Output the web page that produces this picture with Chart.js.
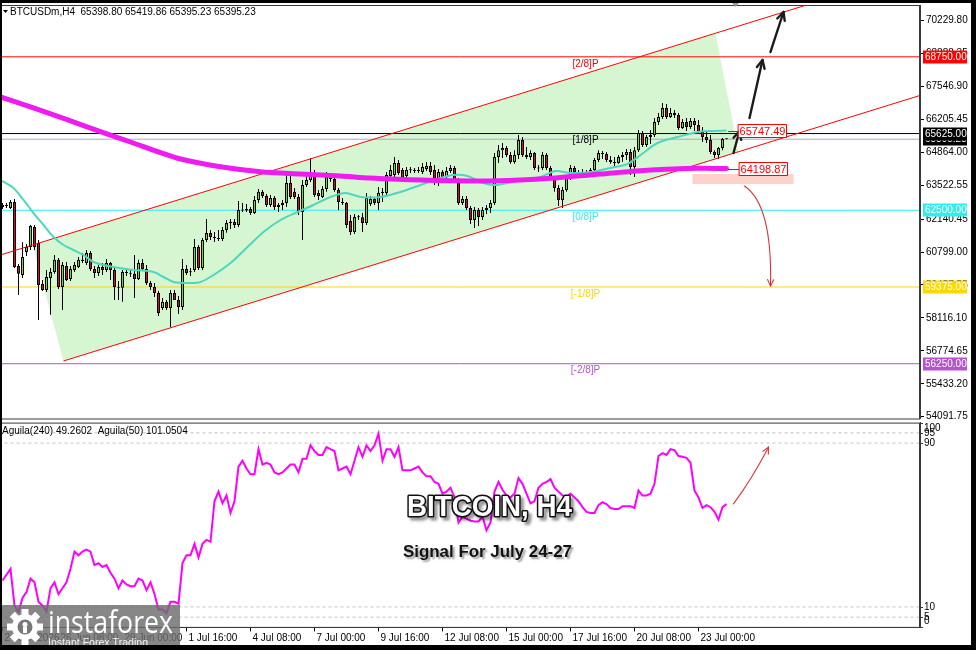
<!DOCTYPE html>
<html>
<head>
<meta charset="utf-8">
<title>BTCUSDm H4</title>
<script src="https://cdn.jsdelivr.net/npm/chart.js@4.4.1/dist/chart.umd.min.js"></script>
<style>
  html, body { margin: 0; padding: 0; background: #fff; }
  #wrap { position: relative; width: 976px; height: 650px; overflow: hidden; background: #fff; }
  canvas { position: absolute; left: 0; }
  #priceChart { top: 0; }
  #aguilaChart { top: 420px; }
  #overlay { top: 0; pointer-events: none; }
</style>
</head>
<body>
<div id="wrap">
  <canvas id="priceChart" width="976" height="420"></canvas>
  <canvas id="aguilaChart" width="976" height="230"></canvas>
  <canvas id="overlay" width="976" height="650"></canvas>
</div>
<script>
// H4 bars, bar 0 = 24 Jun 00:00, last bar = 24 Jul 04:00
const barOpen = [
  62720, 62670, 62590, 62840, 60230, 59860, 60800, 61000, 61820, 61170,
  59500, 59250, 59740, 59990, 60480, 59380, 60230, 59700, 60070, 60190,
  60480, 60350, 60760, 60110, 59950, 60190, 60070, 60350, 60070, 59380,
  59340, 59990, 59950, 59910, 59700, 60350, 60110, 59540, 59380, 59130,
  58520, 58770, 58520, 59130, 58850, 58560, 60110, 59990, 60070, 61000,
  60150, 61290, 61570, 61410, 61370, 61330, 61700, 61980, 62020, 61900,
  62510, 62490, 62550, 62390, 62920, 63250, 63080, 62720, 63000, 62630,
  62720, 62800, 63610, 63250, 63040, 62430, 63530, 63730, 64020, 63200,
  63040, 63370, 63860, 63770, 63330, 62840, 62800, 62060, 61620, 62230,
  62220, 61980, 62760, 62960, 62800, 63200, 63200, 63900, 63940, 64430,
  64140, 63900, 64140, 64140, 64100, 64060, 64180, 64300, 64140, 63650,
  64060, 63850, 64100, 64220, 63730, 62800, 62960, 62590, 62100, 62510,
  62230, 62510, 62590, 62800, 64670, 64950, 65040, 64750, 64470, 64750,
  65360, 64750, 64670, 64830, 64220, 64220, 64750, 64220, 63820, 63410,
  62920, 63330, 63820, 64220, 64060, 64020, 64060, 64020, 64140, 64550,
  64830, 64790, 64550, 64470, 64430, 64670, 64750, 64870, 64260, 64950,
  65650, 65160, 65480, 65570, 66100, 66300, 66670, 66300, 66460, 66380,
  65850, 66100, 65890, 66140, 65970, 65690, 65480, 65360, 64870, 64750,
  65040, 65398.80
];
const barHigh = [
  62800, 62800, 62920, 62960, 60310, 61210, 61130, 61900, 61900, 61290,
  59660, 60070, 60150, 60680, 60560, 60390, 60390, 60230, 60390, 60600,
  60760, 60880, 60840, 60230, 60270, 60350, 60520, 60390, 60150, 59620,
  60070, 60150, 60070, 60680, 60480, 60520, 60270, 59620, 59540, 59210,
  58930, 58850, 59250, 59250, 59010, 60520, 60270, 60150, 61330, 61090,
  61370, 62140, 61700, 61620, 61700, 61820, 62100, 62140, 62140, 62880,
  62800, 62760, 62630, 63080, 63370, 63330, 63160, 63120, 63080, 62800,
  62920, 64020, 64020, 63410, 63160, 63730, 64060, 64630, 64140, 63330,
  63490, 64060, 64020, 63940, 63410, 63000, 62840, 62310, 62350, 62310,
  62390, 63200, 63080, 63040, 63450, 63410, 64060, 64340, 64670, 64550,
  64220, 64260, 64260, 64220, 64260, 64430, 64470, 64470, 64340, 64180,
  64140, 64260, 64340, 64300, 63810, 63080, 63080, 62670, 62630, 62590,
  62630, 62710, 62920, 64830, 65160, 65240, 65120, 64870, 64950, 65570,
  65480, 65080, 64950, 64870, 64340, 64870, 64830, 64300, 63900, 63530,
  63450, 63900, 64340, 64300, 64140, 64180, 64140, 64220, 64630, 64950,
  64910, 64870, 64710, 64670, 64750, 64870, 65000, 65000, 65080, 65770,
  65730, 65570, 65770, 66260, 66460, 66870, 66830, 66670, 66580, 66460,
  66220, 66260, 66260, 66260, 66180, 65890, 65730, 65570, 64950, 65080,
  65440, 65419.86
];
const barLow = [
  62550, 62590, 62550, 60150, 59050, 59740, 60640, 60880, 60880, 58030,
  59210, 59170, 58240, 59910, 59290, 58440, 59620, 59620, 59990, 60150,
  60350, 60270, 60030, 59740, 59820, 59860, 59990, 59660, 58850, 58850,
  58770, 59820, 59780, 58930, 59660, 60030, 59460, 59250, 58970, 58190,
  58440, 58440, 57750, 58850, 58280, 58440, 59860, 59820, 59990, 60070,
  60070, 61210, 61290, 61210, 61250, 61250, 61580, 61740, 61780, 61820,
  62430, 62430, 62310, 62350, 62800, 63000, 62630, 62630, 62510, 62430,
  62510, 62630, 62960, 62960, 62310, 61290, 63450, 63650, 63040, 62920,
  63000, 63250, 63650, 63250, 62510, 62720, 61780, 61490, 61530, 62100,
  61620, 61900, 62670, 62720, 62510, 62840, 63120, 63820, 63860, 63940,
  63690, 63730, 64020, 64020, 64020, 63980, 64100, 63940, 63530, 63490,
  63730, 63780, 64020, 63650, 62710, 62710, 62510, 61940, 61780, 61860,
  62100, 62350, 62390, 62710, 64430, 64630, 64670, 64390, 64390, 64590,
  64670, 64590, 64550, 64140, 64060, 64140, 64140, 63730, 63250, 62670,
  62590, 63250, 63730, 63900, 63900, 63860, 63940, 63940, 64100, 64470,
  64590, 64470, 64390, 64300, 64390, 64470, 64550, 63940, 63860, 64870,
  65080, 65080, 65200, 65480, 65970, 66220, 66220, 66260, 66260, 65770,
  65810, 65730, 65810, 65730, 65610, 65280, 65240, 64790, 64630, 64590,
  64950, 65395.23
];
const barClose = [
  62630, 62720, 62840, 60190, 59910, 60600, 61000, 61860, 61000, 59460,
  59250, 59780, 59990, 60480, 59380, 60270, 59660, 60110, 60270, 60480,
  60430, 60760, 60110, 59950, 60190, 60070, 60350, 60070, 59380, 59340,
  59990, 59950, 59910, 59700, 60350, 60110, 59540, 59380, 59130, 58320,
  58770, 58520, 59130, 58850, 58560, 60110, 59950, 59980, 61000, 60150,
  61290, 61570, 61410, 61370, 61330, 61700, 61980, 62020, 61900, 62510,
  62490, 62550, 62390, 62920, 63250, 63080, 62720, 63000, 62630, 62720,
  62800, 63610, 63040, 63040, 62430, 63530, 63730, 64020, 63120, 63080,
  63370, 63860, 63770, 63330, 62840, 62800, 61900, 61620, 62230, 62220,
  61980, 63000, 62960, 62800, 63200, 63250, 63940, 64140, 64430, 64020,
  63820, 64140, 64130, 64100, 64140, 64260, 64300, 64060, 63650, 64060,
  63850, 64100, 64220, 63730, 62800, 62960, 62590, 62100, 62510, 62230,
  62510, 62590, 62800, 64670, 64950, 65040, 64750, 64470, 64750, 65360,
  64750, 64670, 64830, 64220, 64200, 64750, 64220, 63820, 63410, 62920,
  63330, 63820, 64220, 64060, 64020, 64060, 64020, 64140, 64550, 64830,
  64790, 64550, 64470, 64430, 64670, 64750, 64870, 64260, 64950, 65650,
  65160, 65480, 65570, 66100, 66300, 66670, 66300, 66460, 66380, 65850,
  66100, 65890, 66140, 65970, 65690, 65480, 65360, 64870, 64750, 65040,
  65400, 65395.23
];

// moving averages, read at a few bars along each curve
const maFastBar = [-0.5, 2.75, 5.25, 7.75, 10.25, 12.75, 15.25, 17.75, 20.25, 22.75, 25.25, 27.75, 32.75, 37.75,
  40.25, 42.75, 47, 49.5, 52.75, 57, 61.25, 65.25, 69.5, 73.75, 77.75, 82, 85.75, 89.5, 94.5, 99.5, 104.5,
  109.5, 112.75, 116.25, 119.5, 122.75, 126.25, 129.5, 134.5, 138.25, 142, 147, 152, 156.25, 159.5, 163.75,
  168.75, 173.75, 177, 181];
const maFastVal = [63733, 63407, 62919, 62389, 61901, 61412, 61086, 60882, 60679, 60394, 60272, 60190, 60068, 59986,
  59783, 59579, 59538, 59579, 59864, 60353, 61005, 61616, 62104, 62430, 62715, 63041, 63204, 63041, 63041, 63245, 63530,
  63815, 63937, 63896, 63652, 63530, 63611, 63733, 63855, 64100, 64018, 64059, 64222, 64385, 64751, 65240,
  65485, 65688, 65729, 65747.49];
const maSlowBar = [-0.5, 7, 16, 24.5, 32, 39.5, 44.5, 54.5, 64.5, 74.5, 84.5, 92, 104.5, 119.5, 129.5, 137, 149.5, 162, 174.5, 181];
const maSlowVal = [67114, 66707, 66198, 65705, 65281, 64849, 64589, 64275, 64071, 63978, 63896, 63815, 63733, 63693, 63733, 63802, 63978, 64141, 64210, 64198.87];

// Aguila(240), one value per bar
const aguila240 = [
  22.9, 25.7, 28.6, 10.6, 7.5, 14.4, 17.2, 23.8, 22, 12.5,
  10.6, 7.8, 19.1, 22, 16.3, 19.1, 22, 28.6, 37, 35.2,
  37, 38, 37, 30.4, 31.4, 29.5, 30.4, 26.7, 23.8, 19.1,
  22.9, 21, 20.1, 20.1, 23.8, 22.9, 18.2, 22, 16.3, 8.8,
  8.8, 6.9, 12.5, 12.5, 11.6, 31.4, 35.2, 35.2, 40.8, 34.2,
  40.8, 42.7, 41.8, 61.6, 66.3, 60.6, 64.4, 55.9, 61.6, 78.5,
  81.4, 77.6, 74.8, 74.8, 87, 79.5, 80.4, 79.5, 75.7, 74.8,
  75.7, 77.6, 79.5, 79.5, 75.7, 82.3, 82.3, 88.9, 86.1, 84.2,
  84.2, 88, 87, 86.1, 76.7, 77.6, 78.5, 74.8, 81.4, 88,
  83.3, 88.9, 86.1, 88.9, 94.6, 81.4, 87, 87, 83.3, 88,
  76.7, 76.7, 76.7, 77.6, 78.5, 75.7, 73.8, 73.8, 71, 70.1,
  65.3, 66.3, 68.2, 63.5, 51.2, 54, 53.1, 52.1, 51.7, 51.7,
  54, 47.4, 51.2, 66.3, 71, 67.2, 64.4, 63.5, 65.3, 72.9,
  70.1, 65.3, 60.6, 61.6, 68.2, 70.1, 71, 72.4, 68.2, 66.3,
  64.4, 63.5, 65.3, 63.5, 61.6, 58.7, 56.4, 55.9, 55.9, 59.7,
  61.1, 60.2, 58.3, 57.8, 57.8, 59.2, 59.2, 59.2, 58.3, 66.8,
  64.4, 64.4, 65.3, 70.1, 83.7, 85.1, 84.2, 87, 86.6, 83.7,
  83.3, 82.8, 80.4, 66.8, 63.5, 58.3, 59.7, 58.7, 56.4, 52.6,
  58.7, 60.2
];
const aguilaLevels = [95, 90, 10, 5];
const aguilaTicks = [100, 95, 90, 10, 5, 0];

// Murrey math levels and channel
const murreyLevels = [68750, 65625, 62500, 59375, 56250];
const murreyNames = ['[2/8]P', '[1/8]P', '[0/8]P', '[-1/8]P', '[-2/8]P'];
const chanUpperBar = [-0.5, 201], chanUpperVal = [60679, 70861];
const chanLowerBar = [15.25, 229.75], chanLowerVal = [56361, 67195];

const priceTicks = [70229.80, 68888.35, 67546.90, 66205.45, 64864.00, 63522.55, 62140.45,
  60799.00, 59457.55, 58116.10, 56774.65, 55433.20, 54091.75];
const timeTickBars = [0, 14, 30, 46, 62, 78, 94, 110, 126, 142, 158, 174];
const timeTickLabels = ['24 Jun 2026', '26 Jun 08:00', '29 Jun 00:00', '1 Jul 16:00', '4 Jul 08:00', '7 Jul 00:00',
  '9 Jul 16:00', '12 Jul 08:00', '15 Jul 00:00', '17 Jul 16:00', '20 Jul 08:00', '23 Jul 00:00'];

// ---------------- drawings placed on the chart (bar, price) ----------------
const channelFill = { bar: [7.5, 178.25, 184, 15.25], val: [61086, 69704, 64874, 56361] };
const pinkZone = { bar0: 172.5, bar1: 197.75, hi: 63978, lo: 63571 };
const blackArrows = [
  { from: [182.75, 64833], to: [184.25, 65729] },
  { from: [186.75, 66258], to: [190, 68621] },
  { from: [192, 68947], to: [195.25, 70576] }
];
const redCurve = { from: [185.5, 63489], ctrl: [192.5, 62715], to: [192, 59416] };
const aguilaCurve = { from: [182.75, 60.3], ctrl: [187.5, 73], to: [191.5, 88] };
const valueTags = [{ bar: 183.75, value: maFastVal[maFastVal.length - 1] }, { bar: 184, value: maSlowVal[maSlowVal.length - 1] }];

const FONT = '"Liberation Sans", Arial, sans-serif';
Chart.defaults.font.family = FONT;
Chart.defaults.font.size = 10;
Chart.defaults.color = '#000';

const BULL = '#7fd03c', BEAR = '#c8141e';
const murreyColor = ['#ff0000', '#000000', '#30eef0', '#ffd700', '#b653d0'];
const X_MIN = -0.375, X_MAX = 229.375;
const PRICE_MIN = 54019, PRICE_MAX = 70861;
const last = barClose.length - 1;
const lastPrice = barClose[last];

const pts = (xs, ys) => xs.map((x, i) => ({ x, y: ys[i] }));
const flat = (v) => [{ x: -1, y: v }, { x: 240, y: v }];

function arrowHead(ctx, x1, y1, x2, y2, len, spread) {
  const a = Math.atan2(y2 - y1, x2 - x1);
  ctx.beginPath();
  ctx.moveTo(x2 - len * Math.cos(a - spread), y2 - len * Math.sin(a - spread));
  ctx.lineTo(x2, y2);
  ctx.lineTo(x2 - len * Math.cos(a + spread), y2 - len * Math.sin(a + spread));
  ctx.stroke();
}

const priceDrawings = {
  id: 'priceDrawings',
  beforeDatasetsDraw(chart) {
    const { ctx, chartArea: a, scales: { x, y } } = chart;
    ctx.save();
    ctx.beginPath(); ctx.rect(a.left, a.top, a.width, a.height); ctx.clip();
    ctx.fillStyle = '#d6f6d2';
    ctx.beginPath();
    channelFill.bar.forEach((b, k) => {
      const px = x.getPixelForValue(b), py = y.getPixelForValue(channelFill.val[k]);
      k ? ctx.lineTo(px, py) : ctx.moveTo(px, py);
    });
    ctx.closePath(); ctx.fill();
    const zx = x.getPixelForValue(pinkZone.bar0), zy = y.getPixelForValue(pinkZone.hi);
    ctx.fillStyle = '#fcd2ca';
    ctx.fillRect(zx, zy, x.getPixelForValue(pinkZone.bar1) - zx, y.getPixelForValue(pinkZone.lo) - zy);
    ctx.restore();
  },
  afterDatasetsDraw(chart) {
    const { ctx, chartArea: a, scales: { x, y } } = chart;
    const P = (p) => [x.getPixelForValue(p[0]), y.getPixelForValue(p[1])];
    ctx.save();
    ctx.beginPath(); ctx.rect(a.left, a.top, a.width, a.height); ctx.clip();
    // Murrey labels
    ctx.font = '10px ' + FONT; ctx.textAlign = 'center'; ctx.textBaseline = 'middle';
    murreyLevels.forEach((v, k) => {
      ctx.fillStyle = murreyColor[k];
      ctx.fillText(murreyNames[k], x.getPixelForValue(145.75), y.getPixelForValue(v) + 7);
    });
    // black arrows
    ctx.strokeStyle = '#1c1c1c'; ctx.lineWidth = 2.4; ctx.lineCap = 'round'; ctx.lineJoin = 'round';
    blackArrows.forEach(ar => {
      const [x1, y1] = P(ar.from), [x2, y2] = P(ar.to);
      ctx.beginPath(); ctx.moveTo(x1, y1); ctx.lineTo(x2, y2); ctx.stroke();
      arrowHead(ctx, x1, y1, x2, y2, 9, 0.45);
    });
    // red curved arrow
    const [c1x, c1y] = P(redCurve.from), [c2x, c2y] = P(redCurve.ctrl), [c3x, c3y] = P(redCurve.to);
    ctx.strokeStyle = '#e0303c'; ctx.lineWidth = 1.1;
    ctx.beginPath(); ctx.moveTo(c1x, c1y); ctx.quadraticCurveTo(c2x, c2y, c3x, c3y); ctx.stroke();
    arrowHead(ctx, c2x, c2y, c3x, c3y, 7, 0.45);
    // value tags at the moving average ends
    valueTags.forEach(t => {
      const bx = x.getPixelForValue(t.bar), by = y.getPixelForValue(t.value);
      ctx.strokeStyle = '#ff0000'; ctx.lineWidth = 1;
      ctx.beginPath(); ctx.moveTo(x.getPixelForValue(181.5), Math.round(by) + 0.5); ctx.lineTo(bx, Math.round(by) + 0.5); ctx.stroke();
      ctx.fillStyle = '#fff';
      ctx.fillRect(Math.round(bx) + 0.5, Math.round(by) - 6.5, 48, 13);
      ctx.strokeRect(Math.round(bx) + 0.5, Math.round(by) - 6.5, 48, 13);
      ctx.fillStyle = '#ff0000'; ctx.font = '11px ' + FONT; ctx.textAlign = 'center';
      ctx.fillText(t.value.toFixed(2), Math.round(bx) + 24.5, Math.round(by) + 0.5);
    });
    ctx.restore();
  },
  afterDraw(chart) {
    const { ctx, chartArea: a, scales: { x, y } } = chart;
    ctx.save();
    ctx.strokeStyle = '#3a3a3a'; ctx.lineWidth = 1;
    ctx.strokeRect(a.left + 0.5, a.top + 0.5, a.width - 1, a.height);
    // shift marker
    const sx = x.getPixelForValue(183.25);
    ctx.fillStyle = '#8c9cb0';
    ctx.beginPath(); ctx.moveTo(sx - 6, 0); ctx.lineTo(sx + 6, 0); ctx.lineTo(sx, 7); ctx.closePath(); ctx.fill();
    // price tags on the axis
    const tags = [
      { v: murreyLevels[0], bg: murreyColor[0] }, { v: lastPrice, bg: '#000' }, { v: murreyLevels[1], bg: '#000' },
      { v: murreyLevels[2], bg: murreyColor[2] }, { v: murreyLevels[3], bg: murreyColor[3] }, { v: murreyLevels[4], bg: murreyColor[4] }];
    ctx.font = '10px ' + FONT; ctx.textAlign = 'left'; ctx.textBaseline = 'middle';
    tags.forEach(t => {
      const ty = y.getPixelForValue(t.v);
      ctx.fillStyle = t.bg;
      ctx.fillRect(a.right + 3, Math.round(ty) - 6.5, 44, 13);
      ctx.fillStyle = '#fff';
      ctx.fillText(t.v.toFixed(2), a.right + 5, Math.round(ty) + 0.5);
    });
    ctx.restore();
  }
};

const priceChart = new Chart(document.getElementById('priceChart'), {
  type: 'bar',
  data: {
    datasets: [
      ...murreyLevels.map((v, k) => ({ type: 'line', data: flat(v), borderColor: murreyColor[k], borderWidth: 1, pointRadius: 0, order: 10 })),
      { type: 'line', data: flat(lastPrice), borderColor: '#a4acc0', borderWidth: 1, pointRadius: 0, order: 10 },
      { type: 'bar', data: barOpen.map((o, i) => ({ x: i, y: [barLow[i], barHigh[i]] })), backgroundColor: '#000',
        barThickness: 1, grouped: false, inflateAmount: 0, minBarLength: 1, order: 6 },
      { type: 'bar', data: barOpen.map((o, i) => ({ x: i, y: [o, barClose[i]] })),
        backgroundColor: c => barClose[c.dataIndex] >= barOpen[c.dataIndex] ? BULL : BEAR,
        borderColor: '#000', borderWidth: 1, borderSkipped: false, barThickness: 3, grouped: false,
        inflateAmount: 0, minBarLength: 1, order: 5 },
      { type: 'line', data: pts(chanUpperBar, chanUpperVal), borderColor: '#ff0000', borderWidth: 1, pointRadius: 0, order: 3 },
      { type: 'line', data: pts(chanLowerBar, chanLowerVal), borderColor: '#ff0000', borderWidth: 1, pointRadius: 0, order: 3 },
      { type: 'line', data: pts(maFastBar, maFastVal), borderColor: '#4fd6bf', borderWidth: 2, pointRadius: 0, tension: 0.3, order: 2 },
      { type: 'line', data: pts(maSlowBar, maSlowVal), borderColor: '#ee1cee', borderWidth: 5, pointRadius: 0, tension: 0.3,
        borderCapStyle: 'round', order: 1 }
    ]
  },
  options: {
    responsive: false, animation: false, devicePixelRatio: 1, events: [],
    layout: { padding: { left: 1, top: 5, right: 0, bottom: 1.5 } },
    plugins: { legend: { display: false }, tooltip: { enabled: false } },
    scales: {
      x: { type: 'linear', min: X_MIN, max: X_MAX, display: false, offset: false },
      y: {
        type: 'linear', position: 'right', min: PRICE_MIN, max: PRICE_MAX,
        afterFit: s => { s.width = 56; s.paddingTop = 0; s.paddingBottom = 0; },
        afterBuildTicks: s => { s.ticks = priceTicks.map(v => ({ value: v })); },
        ticks: { autoSkip: false, padding: 2, color: '#000', font: { size: 10 }, callback: v => v.toFixed(2) },
        grid: { drawOnChartArea: false, drawTicks: true, tickLength: 4, color: '#000' },
        border: { display: true, color: '#3a3a3a' }
      }
    }
  },
  plugins: [priceDrawings]
});

const aguilaDrawings = {
  id: 'aguilaDrawings',
  afterDraw(chart) {
    const { ctx, chartArea: a, scales: { x, y } } = chart;
    ctx.save();
    ctx.strokeStyle = '#3a3a3a'; ctx.lineWidth = 1;
    ctx.strokeRect(a.left + 0.5, a.top + 0.5, a.width - 1, a.height - 0.5);
    ctx.font = '10px ' + FONT; ctx.fillStyle = '#000'; ctx.textAlign = 'left'; ctx.textBaseline = 'middle';
    aguilaTicks.forEach(v => {
      const ty = y.getPixelForValue(v);
      ctx.beginPath(); ctx.moveTo(a.right, Math.round(ty) + 0.5); ctx.lineTo(a.right + 3, Math.round(ty) + 0.5); ctx.stroke();
      const ly = Math.min(Math.max(ty, a.top + 5.5), a.bottom - 6.5);
      ctx.fillText(String(v), a.right + 4, ly);
    });
    ctx.beginPath(); ctx.rect(a.left, a.top, a.width, a.height); ctx.clip();
    const P = (p) => [x.getPixelForValue(p[0]), y.getPixelForValue(p[1])];
    const [s1x, s1y] = P(aguilaCurve.from), [s2x, s2y] = P(aguilaCurve.ctrl), [s3x, s3y] = P(aguilaCurve.to);
    ctx.strokeStyle = '#e0303c'; ctx.lineWidth = 1.1; ctx.lineCap = 'round';
    ctx.beginPath(); ctx.moveTo(s1x, s1y); ctx.quadraticCurveTo(s2x, s2y, s3x, s3y); ctx.stroke();
    arrowHead(ctx, s2x, s2y, s3x, s3y, 7, 0.45);
    ctx.restore();
  }
};

const aguilaChart = new Chart(document.getElementById('aguilaChart'), {
  type: 'line',
  data: {
    datasets: [
      ...aguilaLevels.map(v => ({ data: flat(v), borderColor: '#c2c2c2', borderWidth: 1, borderDash: [3, 3], pointRadius: 0, order: 5 })),
      { data: aguila240.map((v, i) => ({ x: i, y: v })), borderColor: '#ff00ff', borderWidth: 2, pointRadius: 0, order: 1 }
    ]
  },
  options: {
    responsive: false, animation: false, devicePixelRatio: 1, events: [],
    layout: { padding: { left: 1, top: 2.6, right: 0, bottom: 0 } },
    plugins: { legend: { display: false }, tooltip: { enabled: false } },
    scales: {
      x: {
        type: 'linear', min: X_MIN, max: X_MAX, offset: false,
        afterFit: s => { s.height = 22.6; s.paddingLeft = 0; s.paddingRight = 0; },
        afterBuildTicks: s => { s.ticks = timeTickBars.map(v => ({ value: v })); },
        ticks: { autoSkip: false, maxRotation: 0, align: 'start', labelOffset: 2, padding: 1, color: '#000', font: { size: 10 },
          callback: v => timeTickLabels[timeTickBars.indexOf(v)] },
        grid: { drawOnChartArea: false, drawTicks: true, tickLength: 4, color: '#000' },
        border: { display: true, color: '#3a3a3a' }
      },
      y: {
        type: 'linear', position: 'right', min: 0, max: 100,
        afterFit: s => { s.width = 56; s.paddingTop = 0; s.paddingBottom = 0; },
        ticks: { display: false }, grid: { display: false },
        border: { display: true, color: '#3a3a3a' }
      }
    }
  },
  plugins: [aguilaDrawings]
});

// ---------------- overlay: captions, logo, frame ----------------
const ov = document.getElementById('overlay').getContext('2d');

ov.font = '10px ' + FONT; ov.fillStyle = '#000'; ov.textBaseline = 'middle'; ov.textAlign = 'left';
ov.fillText('BTCUSDm,H4  ' + [barOpen[last], barHigh[last], barLow[last], barClose[last]].map(v => v.toFixed(2)).join(' '), 10, 12.5);
ov.beginPath(); ov.moveTo(3, 10); ov.lineTo(8, 10); ov.lineTo(5.5, 13); ov.closePath(); ov.fill();
ov.fillText('Aguila(240) 49.2602  Aguila(50) 101.0504', 2, 431);

function fitted(text, cx, base, width, font, draw) {
  ov.save();
  ov.font = font;
  const w = ov.measureText(text).width;
  ov.translate(cx, base);
  ov.scale(width / w, 1);
  ov.textAlign = 'center'; ov.textBaseline = 'alphabetic';
  draw();
  ov.restore();
}
fitted('BITCOIN, H4', 489.5, 516, 165, 'bold 29px ' + FONT, () => {
  ov.shadowColor = 'rgba(0,0,0,0.45)'; ov.shadowOffsetX = 3; ov.shadowOffsetY = 3; ov.shadowBlur = 3;
  ov.lineJoin = 'round'; ov.lineWidth = 3.2; ov.strokeStyle = '#111';
  ov.strokeText('BITCOIN, H4', 0, 0);
  ov.shadowColor = 'transparent';
  ov.fillStyle = '#fff';
  ov.fillText('BITCOIN, H4', 0, 0);
});
fitted('Signal For July 24-27', 487.5, 557, 169, 'bold 16px ' + FONT, () => {
  ov.shadowColor = 'rgba(0,0,0,0.4)'; ov.shadowOffsetX = 2; ov.shadowOffsetY = 2; ov.shadowBlur = 2;
  ov.fillStyle = '#111';
  ov.fillText('Signal For July 24-27', 0, 0);
});

// instaforex badge
ov.fillStyle = 'rgba(108,108,108,0.82)';
ov.fillRect(0, 605, 180, 45);
ov.save();
ov.translate(25, 627);
ov.fillStyle = '#fff';
for (let k = 0; k < 8; k++) {
  ov.save(); ov.rotate(k * Math.PI / 4); ov.fillRect(-3.5, -18, 7, 7); ov.restore();
}
ov.beginPath(); ov.arc(0, 0, 13, 0, Math.PI * 2); ov.fill();
ov.fillStyle = 'rgba(120,120,120,1)';
ov.beginPath(); ov.arc(0, 0, 7.5, 0, Math.PI * 2); ov.fill();
ov.fillStyle = '#fff';
ov.beginPath(); ov.arc(0, -2.5, 2.5, 0, Math.PI * 2); ov.fill();
ov.fillRect(-2, 0, 4, 6);
ov.restore();
fitted('instaforex', 110.5, 633, 125, '31px "Open Sans", ' + FONT, () => { ov.fillStyle = '#fff'; ov.fillText('instaforex', 0, 0); });
fitted('Instant Forex Trading', 98, 646, 100, '11px ' + FONT, () => { ov.fillStyle = '#f2f2f2'; ov.fillText('Instant Forex Trading', 0, 0); });

// frame
ov.fillStyle = '#000';
ov.fillRect(0, 0, 976, 3);
ov.fillRect(0, 0, 2, 650);
ov.fillRect(971, 0, 5, 650);
ov.fillRect(0, 645, 976, 5);
</script>
</body>
</html>
